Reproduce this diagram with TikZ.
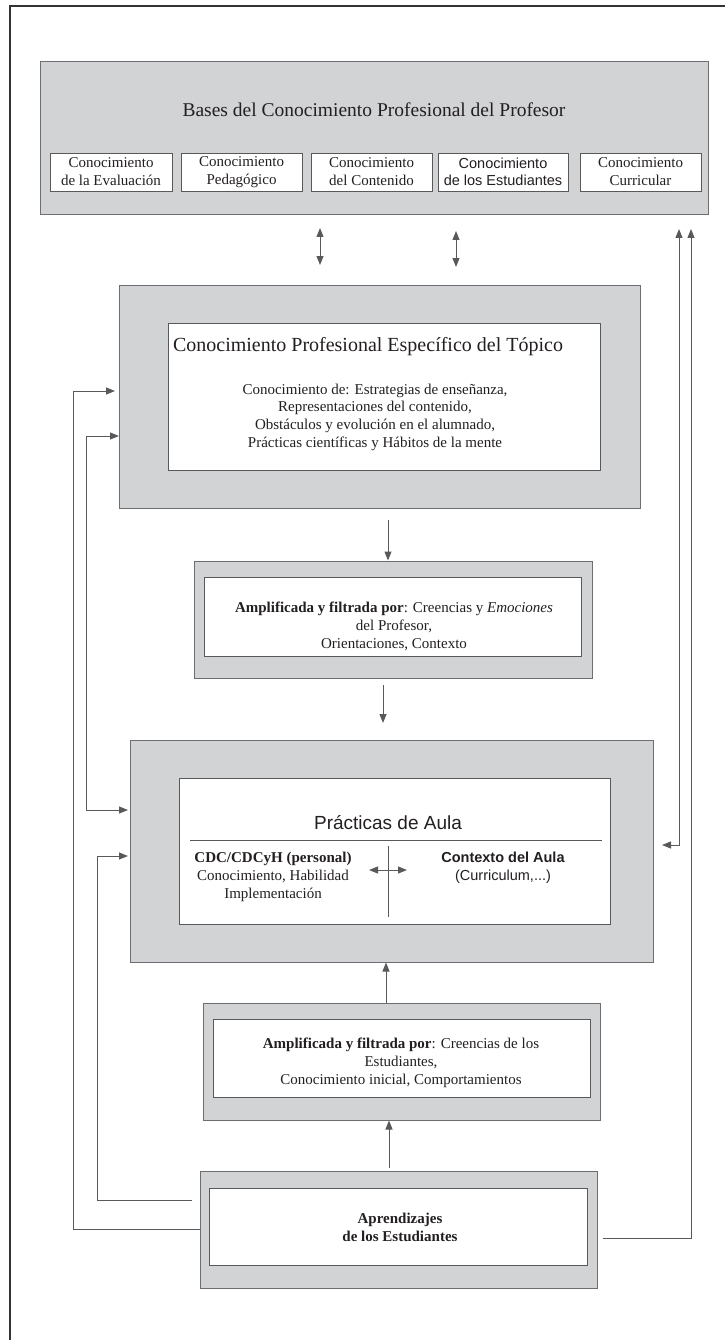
\documentclass[tikz,border=0pt]{standalone}
\usepackage{fontspec}
\setmainfont{Liberation Serif}
\newfontfamily\arial{Liberation Sans}
\usetikzlibrary{arrows.meta}
\definecolor{boxgray}{HTML}{D1D3D4}
\definecolor{edgegray}{HTML}{6D6E71}
\definecolor{linegray}{HTML}{58595B}
\definecolor{txt}{HTML}{231F20}
\begin{document}
\begin{tikzpicture}[x=1pt,y=-1pt,
  graybox/.style={draw=edgegray, fill=boxgray, line width=1pt, inner sep=0pt, rectangle},
  whitebox/.style={draw=linegray, fill=white, line width=0.9pt, inner sep=0pt, rectangle},
  lbl/.style={text=txt, inner sep=0pt, align=center, font=\fontsize{15}{18}\selectfont},
  conn/.style={draw=linegray, line width=1pt},
  arr/.style={conn, -{Triangle[length=9pt,width=7pt]}},
  darr/.style={conn, {Triangle[length=9pt,width=7pt]}-{Triangle[length=9pt,width=7pt]}},
]
\useasboundingbox (0,0) rectangle (725,1340);
\draw[line width=1.2pt, color=black!80] (10,1340) -- (10,6) -- (725,6);

% top box
\node[graybox, minimum width=668pt, minimum height=153pt] (bases) at (374,138.5) {};
\node[lbl, font=\fontsize{19.5}{22}\selectfont] (basest) at (374,110) {Bases del Conocimiento Profesional del Profesor};
\node[whitebox, lbl, minimum width=122pt, minimum height=38pt] (k1) at (111,172) {Conocimiento\\de la Evaluación};
\node[whitebox, lbl, minimum width=121pt, minimum height=38pt] (k2) at (241.5,172) {Conocimiento\\Pedagógico};
\node[whitebox, lbl, minimum width=121pt, minimum height=38pt] (k3) at (371.5,172) {Conocimiento\\del Contenido};
\node[whitebox, lbl, font=\arial\fontsize{14.5}{17}\selectfont, minimum width=130pt, minimum height=38pt] (k4) at (503,172) {Conocimiento\\de los Estudiantes};
\node[whitebox, lbl, minimum width=121pt, minimum height=38pt] (k5) at (640.5,172) {Conocimiento\\Curricular};

% CPET
\node[graybox, minimum width=521pt, minimum height=223pt] (cpet) at (379.5,396.5) {};
\node[whitebox, minimum width=432pt, minimum height=147pt] (cpetin) at (384,396.5) {};
\node[lbl, font=\fontsize{20}{24}\selectfont] (cpett) at (368,347) {Conocimiento Profesional Específico del Tópico};
\node[lbl, font=\fontsize{15}{17.7}\selectfont] (cpetb) at (375,417) {Conocimiento de: Estrategias de enseñanza,\\Representaciones del contenido,\\Obstáculos y evolución en el alumnado,\\Prácticas científicas y Hábitos de la mente};

% Amplificada 1
\node[graybox, minimum width=398pt, minimum height=117pt] (amp1) at (393,619.5) {};
\node[whitebox, minimum width=377pt, minimum height=79pt] (amp1in) at (392.5,616.5) {};
\node[lbl] (amp1t) at (394,626) {\textbf{Amplificada y filtrada por}: Creencias y \textit{Emociones}\\del Profesor,\\Orientaciones, Contexto};

% Practicas
\node[graybox, minimum width=523pt, minimum height=222pt] (prac) at (391.5,851) {};
\node[whitebox, minimum width=431pt, minimum height=146pt] (pracin) at (394.5,851) {};
\node[lbl, font=\arial\fontsize{19}{22}\selectfont] (pract) at (388,823) {Prácticas de Aula};
\coordinate (hl1) at (190,840); \coordinate (hl2) at (602,840);
\draw[conn] (hl1) -- (hl2);
\coordinate (vl1) at (388,846); \coordinate (vl2) at (388,917);
\draw[conn] (vl1) -- (vl2);
\node[lbl] (cdc) at (273,876.5) {\textbf{CDC/CDCyH (personal)}\\Conocimiento, Habilidad\\Implementación};
\node[lbl, font=\arial\fontsize{14.5}{18}\selectfont] (ctx) at (503,867.5) {\textbf{Contexto del Aula}\\(Curriculum,...)};
\coordinate (ha1) at (369,870); \coordinate (ha2) at (407,870);
\draw[darr] (ha1) -- (ha2);

% Amplificada 2
\node[graybox, minimum width=397pt, minimum height=117pt] (amp2) at (401.5,1061.5) {};
\node[whitebox, minimum width=377pt, minimum height=78pt] (amp2in) at (401.5,1058) {};
\node[lbl] (amp2t) at (401,1063) {\textbf{Amplificada y filtrada por}: Creencias de los\\Estudiantes,\\Conocimiento inicial, Comportamientos};

% Aprendizajes
\node[graybox, minimum width=397pt, minimum height=117pt] (apr) at (398.5,1229.5) {};
\node[whitebox, minimum width=378pt, minimum height=77pt] (aprin) at (398,1226.5) {};
\node[lbl, font=\bfseries\fontsize{15}{18}\selectfont] (aprt) at (400,1227) {Aprendizajes\\de los Estudiantes};

% vertical arrows
\coordinate (t1a) at (320,228); \coordinate (t1b) at (320,265);
\draw[darr] (t1a) -- (t1b);
\coordinate (t2a) at (456,231); \coordinate (t2b) at (456,267);
\draw[darr] (t2a) -- (t2b);
\coordinate (c1) at (388,520);
\draw[arr] (c1) -- (c1 |- amp1.north);
\coordinate (c2a) at (383,685); \coordinate (c2b) at (383,723);
\draw[arr] (c2a) -- (c2b);
\coordinate (c3) at (386,1003);
\draw[arr] (c3 |- amp2.north) -- (c3 |- prac.south);
\coordinate (c4) at (389,1168);
\draw[arr] (c4) -- (c4 |- amp2.south);

% left feedback
\coordinate (L1) at (73,1229); \coordinate (L1e) at (115,391);
\draw[arr] (apr.west |- L1) -- (L1) |- (L1e);
\coordinate (L2a) at (119,436); \coordinate (L2b) at (128,810);
\draw[darr] (L2a) -- ++(-33,0) |- (L2b);
\coordinate (L3s) at (192,1200); \coordinate (L3e) at (128,856);
\draw[arr] (L3s) -- ++(-95,0) |- (L3e);

% right feedback
\coordinate (R1t) at (679,229); \coordinate (R1e) at (662,845);
\draw[darr] (R1e) -| (R1t);
\coordinate (R2t) at (691,229); \coordinate (R2s) at (603,1238);
\draw[arr] (R2s) -| (R2t);
\end{tikzpicture}
\end{document}
